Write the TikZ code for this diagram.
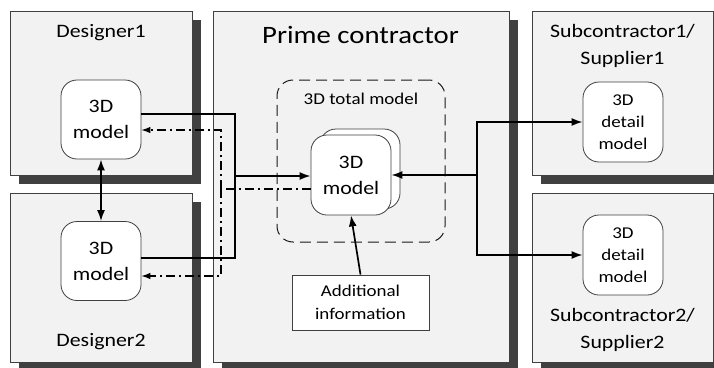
\documentclass[tikz,border=0pt]{standalone}
\usepackage{fontspec}
\setmainfont{Carlito}[FakeStretch=1.15]
\usetikzlibrary{calc,shadows,arrows.meta}

\begin{document}
\begin{tikzpicture}[x=1pt, y=-1pt,
    party/.style={rectangle, draw=black!75, line width=0.8pt, fill=black!5, inner sep=0pt, anchor=north west,
        drop shadow={shadow xshift=9pt, shadow yshift=-9pt, fill=black!75, opacity=1}},
    title/.style={align=center, inner sep=0pt, font=\fontsize{19}{27}\selectfont},
    model/.style={rectangle, rounded corners=16pt, draw=black!75, line width=0.8pt, fill=white, inner sep=0pt,
        minimum width=80pt, minimum height=79pt, align=center, font=\fontsize{19}{26}\selectfont},
    detail/.style={model, font=\fontsize{16.5}{22}\selectfont},
    conn/.style={line width=1.7pt, -{Latex[length=11pt,width=8pt]}},
    dd/.style={line width=1.1pt, dash pattern=on 9pt off 4pt on 2pt off 4pt, -{Latex[length=9pt,width=6.5pt]}}]

    \useasboundingbox (0,0) rectangle (714,367);

    % party boxes
    \node[party, minimum width=182pt, minimum height=164pt] (d1) at (10,11) {};
    \node[party, minimum width=182pt, minimum height=169pt] (d2) at (10,193) {};
    \node[party, minimum width=296pt, minimum height=351pt] (pc) at (213,11) {};
    \node[party, minimum width=181pt, minimum height=164pt] (s1) at (532,11) {};
    \node[party, minimum width=181pt, minimum height=169pt] (s2) at (532,193) {};

    \node[title] (d1t) at (101,33) {Designer1};
    \node[title] (d2t) at (101,342) {Designer2};
    \node[title, font=\fontsize{25}{30}\selectfont] (pct) at (360.5,35) {Prime contractor};
    \node[title] (s1t) at (622.5,46) {Subcontractor1/\\Supplier1};
    \node[title] (s2t) at (622.5,329.5) {Subcontractor2/\\Supplier2};

    % models
    \node[model] (m1) at (101,119.5) {3D\\model};
    \node[model] (m2) at (101,261) {3D\\model};

    \node[rectangle, rounded corners=16pt, draw=black!90, line width=1pt, dash pattern=on 11pt off 6pt,
        minimum width=168pt, minimum height=162pt] (tot) at (361,161) {};
    \node[inner sep=0pt, font=\fontsize{16.5}{20}\selectfont] (tott) at (361,99) {3D total model};

    \node[model, minimum height=80pt] (tmb) at (360,169) {};
    \node[model, minimum height=80pt] (tm) at (351,175) {3D\\model};

    \node[rectangle, draw=black!75, line width=0.8pt, fill=white, minimum width=137pt, minimum height=55pt,
        inner sep=0pt, align=center, font=\fontsize{16.5}{23}\selectfont] (ai) at (360.5,302.5) {Additional\\information};

    \node[detail, minimum height=80pt] (dm1) at (623,122) {3D\\detail\\model};
    \node[detail, minimum height=80pt] (dm2) at (623,255) {3D\\detail\\model};

    % connectors
    \coordinate (jl) at (235,176);
    \coordinate (jd) at (221,189);
    \coordinate (jr) at (477,175);

    \draw[line width=1.7pt] ($(m1.east)+(0,-5.5)$) -| (jl) |- ($(m2.east)+(0,-3)$);
    \draw[conn] (jl) -- (jl -| tm.west);

    \draw[dd, -] ($(tm.west)+(0,14)$) -- (jd);
    \draw[dd] (jd) |- ($(m1.east)+(0,10.5)$);
    \draw[dd] (jd) |- ($(m2.east)+(0,15)$);

    \draw[conn] (jr) -- (tm.east);
    \draw[conn] (jr) |- (dm1.west);
    \draw[conn] (jr) |- (dm2.west);

    \draw[conn] (ai.north) -- (tm.south);
    \draw[conn, {Latex[length=11pt,width=8pt]}-{Latex[length=11pt,width=8pt]}] (m1.south) -- (m2.north);

\end{tikzpicture}
\end{document}
